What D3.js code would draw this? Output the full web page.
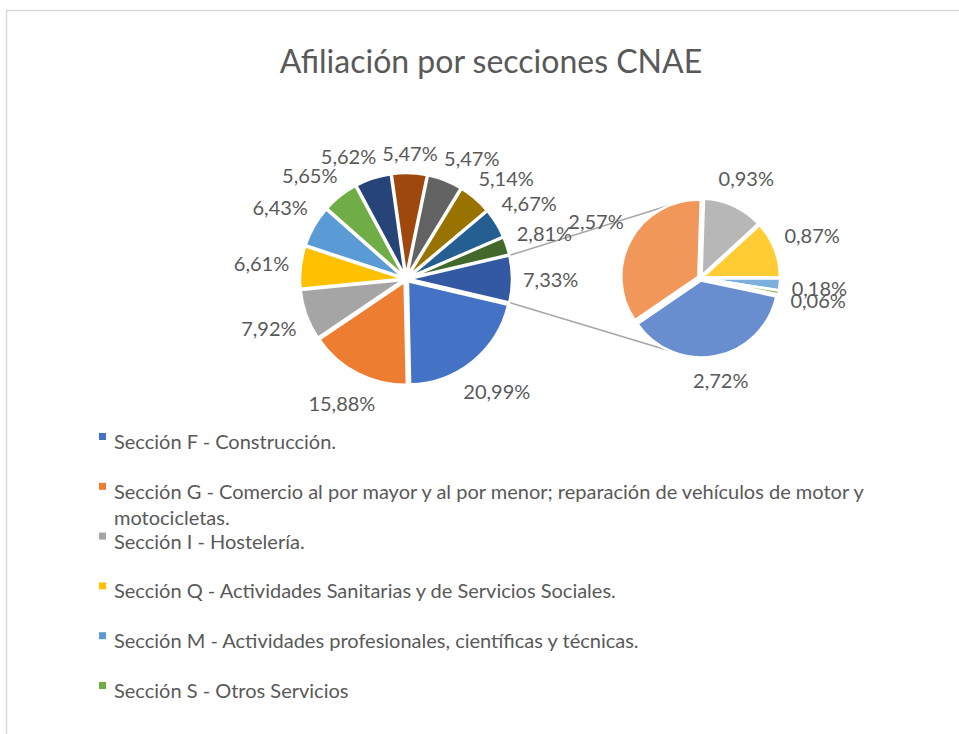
<!DOCTYPE html>
<html>
<head>
<meta charset="utf-8">
<script src="https://d3js.org/d3.v7.min.js"></script>
<style>
  body { margin: 0; background: #fff; }
  text { font-family: Lato, "Open Sans", sans-serif; fill: #595959; }
</style>
</head>
<body>
<script>

// data
var legendNames = [
  "Sección F - Construcción.",
  "Sección G - Comercio al por mayor y al por menor; reparación de vehículos de motor y motocicletas.",
  "Sección I - Hostelería.",
  "Sección Q - Actividades Sanitarias y de Servicios Sociales.",
  "Sección M - Actividades profesionales, científicas y técnicas.",
  "Sección S - Otros Servicios"
];
var primaryValues = [20.99, 15.88, 7.92, 6.61, 6.43, 5.65, 5.62, 5.47, 5.47, 5.14, 4.67, 2.81];
var secondaryValues = [2.72, 2.57, 0.93, 0.87, 0.18, 0.06];

var primaryColors = ["#4472C4", "#ED7D31", "#A5A5A5", "#FFC000", "#5B9BD5", "#70AD47",
                     "#264478", "#9E480E", "#636363", "#997300", "#255E91", "#43682B"];
var otherColor = "#3359A3";
var secondaryColors = ["#698ED0", "#F1975A", "#B7B7B7", "#FFCD33", "#7CAFDD", "#8CC168"];

var width = 959, height = 734;

var svg = d3.select("body").append("svg")
    .attr("width", width)
    .attr("height", height);

// chart frame (cut off at right / bottom)
svg.append("rect")
    .attr("x", 6.5).attr("y", 10.5)
    .attr("width", 1000).attr("height", 800)
    .style("fill", "none")
    .style("stroke", "#d9d9d9")
    .style("stroke-width", 1.5);

svg.append("text")
    .attr("x", 491).attr("y", 73)
    .style("text-anchor", "middle")
    .style("font-size", "32px")
    .text("Afiliación por secciones CNAE");

var fmt = function(v) { return v.toFixed(2).replace(".", ",") + "%"; };

var otherValue = d3.sum(secondaryValues);
var total = d3.sum(primaryValues) + otherValue;
var otherAngle = otherValue / total * 2 * Math.PI;

// primary pie: "other" slice first, centred on 3 o'clock
var p1 = { cx: 406, cy: 279, r: 103, explode: 3 };
var p2 = { cx: 700.5, cy: 278, r: 77, explode: 2.5 };

var primaryData = [{ v: otherValue, c: otherColor }].concat(
  primaryValues.map(function(v, i) { return { v: v, c: primaryColors[i] }; }));
var secondaryData = secondaryValues.map(function(v, i) { return { v: v, c: secondaryColors[i] }; });

var pie1 = d3.pie().sort(null).value(function(d) { return d.v; })
    .startAngle(Math.PI / 2 - otherAngle / 2)
    .endAngle(Math.PI / 2 - otherAngle / 2 + 2 * Math.PI);
var start2 = 102 * Math.PI / 180;
var pie2 = d3.pie().sort(null).value(function(d) { return d.v; })
    .startAngle(start2).endAngle(start2 + 2 * Math.PI);

var arcs1 = pie1(primaryData);
var arcs2 = pie2(secondaryData);

function mid(a) { return (a.startAngle + a.endAngle) / 2; }

// connector lines from "other" slice to secondary pie
var oa = arcs1[0];
var oOff = [Math.sin(mid(oa)) * p1.explode, -Math.cos(mid(oa)) * p1.explode];
function pt(p, ang, rad, off) {
  return [p.cx + Math.sin(ang) * rad + (off ? off[0] : 0), p.cy - Math.cos(ang) * rad + (off ? off[1] : 0)];
}
var connectorAngle = 25 * Math.PI / 180;
var links = [
  [pt(p1, oa.startAngle, p1.r, oOff), pt(p2, -connectorAngle, p2.r + p2.explode)],
  [pt(p1, oa.endAngle, p1.r, oOff), pt(p2, Math.PI + connectorAngle, p2.r + p2.explode)]
];
svg.append("g").selectAll("line")
    .data(links).enter().append("line")
    .attr("x1", function(d) { return d[0][0]; })
    .attr("y1", function(d) { return d[0][1]; })
    .attr("x2", function(d) { return d[1][0]; })
    .attr("y2", function(d) { return d[1][1]; })
    .style("stroke", "#a6a6a6")
    .style("stroke-width", 1.5);

function drawPie(p, arcs) {
  var arc = d3.arc().innerRadius(0).outerRadius(p.r);
  var g = svg.append("g").attr("transform", "translate(" + p.cx + "," + p.cy + ")");
  g.selectAll("path")
    .data(arcs).enter().append("path")
    .attr("d", arc)
    .attr("transform", function(d) {
      var m = mid(d);
      return "translate(" + Math.sin(m) * p.explode + "," + (-Math.cos(m) * p.explode) + ")";
    })
    .style("fill", function(d) { return d.data.c; })
    .style("stroke", "#fff")
    .style("stroke-width", 2.5);
}
drawPie(p1, arcs1);
drawPie(p2, arcs2);

// data labels outside the slices, nudged apart when they collide
function drawLabels(p, arcs, gap, relax) {
  var g = svg.append("g");
  var h = 16;
  var labels = arcs.map(function(a) {
    var t = g.append("text")
      .style("font-size", "20px")
      .style("text-anchor", "middle")
      .attr("dy", "0.4em")
      .text(fmt(a.data.v));
    return { node: t, a: mid(a), w: t.node().getComputedTextLength() };
  });
  function place(l) {
    var d = p.r + gap + l.w / 2 * Math.abs(Math.sin(l.a)) + h / 2 * Math.abs(Math.cos(l.a));
    l.x = p.cx + Math.sin(l.a) * d;
    l.y = p.cy - Math.cos(l.a) * d;
  }
  labels.forEach(place);
  if (relax) {
    for (var it = 0; it < 500; it++) {
      var moved = false;
      for (var i = 0; i < labels.length; i++) {
        var A = labels[i], B = labels[(i + 1) % labels.length];
        if (Math.abs(A.x - B.x) < (A.w + B.w) / 2 + 6 && Math.abs(A.y - B.y) < h + 3) {
          A.a -= 0.004; B.a += 0.004;
          place(A); place(B);
          moved = true;
        }
      }
      if (!moved) break;
    }
  }
  labels.forEach(function(l) { l.node.attr("x", l.x).attr("y", l.y); });
}
drawLabels(p1, arcs1, 14, true);
drawLabels(p2, arcs2, 14, false);

// legend (only the entries visible in the original)
var legendY = d3.scaleLinear().domain([0, legendNames.length - 1]).range([449, 698]);
var legend = svg.append("g");
legendNames.forEach(function(name, i) {
  var y = legendY(i);
  legend.append("rect")
    .attr("x", 99).attr("y", y - 16)
    .attr("width", 7).attr("height", 7)
    .style("fill", primaryColors[i]);
  var t = legend.append("text")
    .attr("x", 114).attr("y", y)
    .style("font-size", "20px");
  // wrap long names
  var words = name.split(" "), line = [], ln = 0;
  var ts = t.append("tspan").attr("x", 114).attr("y", y);
  words.forEach(function(w) {
    line.push(w);
    ts.text(line.join(" "));
    if (ts.node().getComputedTextLength() > 800 && line.length > 1) {
      line.pop();
      ts.text(line.join(" "));
      line = [w];
      ln++;
      ts = t.append("tspan").attr("x", 114).attr("y", y + ln * 26).text(w);
    }
  });
});

</script>
</body>
</html>
